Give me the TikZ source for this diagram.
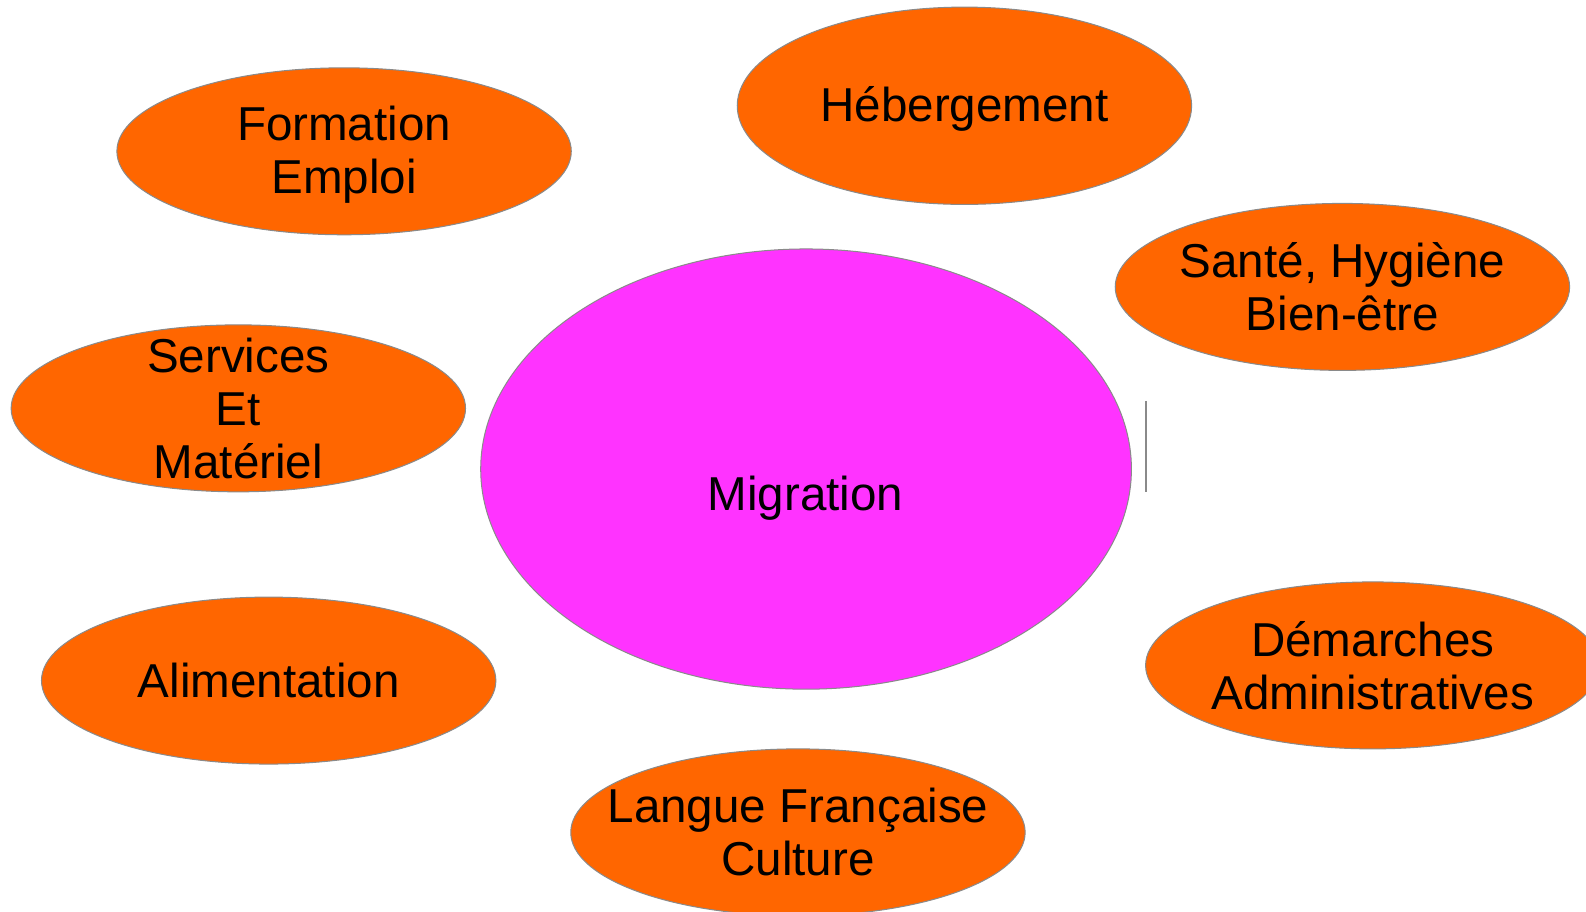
\documentclass[tikz,border=0pt]{standalone}
\usepackage{fontspec}
\setmainfont{Liberation Sans}
\usetikzlibrary{shapes.geometric}
\definecolor{orng}{HTML}{FF6600}
\definecolor{mgnt}{HTML}{FF33FF}
\definecolor{edge}{HTML}{8A8A8A}
\tikzset{
  bubble/.style={ellipse, draw=edge, line width=1pt, fill=orng, inner sep=0pt,
    minimum width=449pt, minimum height=165pt},
  lab/.style={inner sep=0pt, align=center, font=\fontsize{47}{52.5}\selectfont}
}
\begin{document}
\begin{tikzpicture}[x=1pt,y=-1pt]
\useasboundingbox (0,0) rectangle (1567.2,900.2);
\node[bubble] (form) at (340,149.5) {};
\node[bubble, minimum height=195pt] (heb) at (953,104.5) {};
\node[bubble] (sante) at (1326.5,283.5) {};
\node[bubble] (serv) at (235.5,403.5) {};
\node[bubble, fill=mgnt, minimum width=643pt, minimum height=435pt] (mig) at (796.5,463.5) {};
\node[bubble] (alim) at (265.5,672.5) {};
\node[bubble] (dem) at (1356.5,657.5) {};
\node[bubble] (lang) at (788.5,822.5) {};
\node[lab, yshift=-3pt] (formtxt) at (form.center) {Formation\\Emploi};
\node[lab, yshift=-3pt] (hebtxt) at (heb.center) {Hébergement};
\node[lab] (santetxt) at (sante.center) {Santé, Hygiène\\Bien-être};
\node[lab] (servtxt) at (serv.center) {Services\\Et\\Matériel};
\node[lab] (migtxt) at (796,492) {Migration};
\node[lab] (alimtxt) at (alim.center) {Alimentation};
\node[lab] (demtxt) at (dem.center) {Démarches\\Administratives};
\node[lab] (langtxt) at (lang.center) {Langue Française\\Culture};
\coordinate (bartop) at (1132.5,396);
\coordinate (barbot) at (1132.5,486);
\draw[edge, line width=1.3pt] (bartop) -- (barbot);
\end{tikzpicture}
\end{document}
